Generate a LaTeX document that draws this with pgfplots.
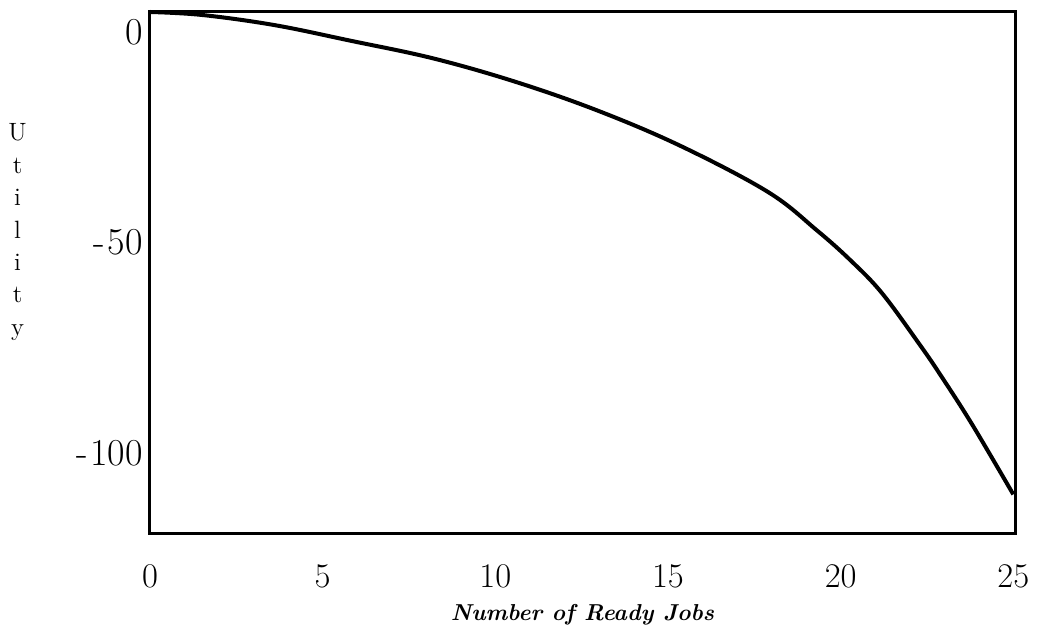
\documentclass[border=0pt]{standalone}
\usepackage{fontspec}
\usepackage{pgfplots}
\pgfplotsset{compat=1.18}

\begin{document}
\begin{tikzpicture}
\begin{axis}[
  scale only axis,width=432pt,height=260.5pt,
  xmin=0,xmax=25.05,ymin=-119,ymax=4.7,
  axis line style={line width=1.5pt},
  major tick length=0pt,
  xtick={0,5,10,15,20,25},
  ytick={-100,-50,0},yticklabels={{-\kern1.5pt100},{-\kern1.5pt50},0},
  tick label style={font=\fontsize{19}{21}\selectfont},
  xticklabel style={yshift=-12pt},
  xlabel={Number of Ready Jobs},
  xlabel style={font=\fontsize{11.5}{13}\selectfont\bfseries\itshape\addfontfeature{LetterSpace=6},
    at={(axis description cs:0.5,-0.155)},anchor=center},
  ylabel={U\\t\\i\\l\\i\\t\\y},
  ylabel style={rotate=-90,align=center,font=\fontsize{12.5}{16.2}\selectfont,
    at={(axis description cs:-0.153,0.578)},anchor=center},
  clip=false]
\addplot[line width=2pt,black,smooth,tension=0.6] coordinates {
  (0,4.7) (1.5,4.0) (3.6,1.6) (5.8,-2.1) (8.2,-6.3) (10.6,-11.9)
  (13.0,-18.8) (15.4,-27.2) (17.9,-38.0) (19.3,-47.0) (20.3,-54.3)
  (21.2,-62.0) (22.3,-74.3) (22.9,-81.5) (23.8,-93.0) (25.0,-109.7)
};
\path (rel axis cs:-0.1734,-0.184) rectangle (rel axis cs:1.0254,1.023);
\end{axis}
\end{tikzpicture}
\end{document}
